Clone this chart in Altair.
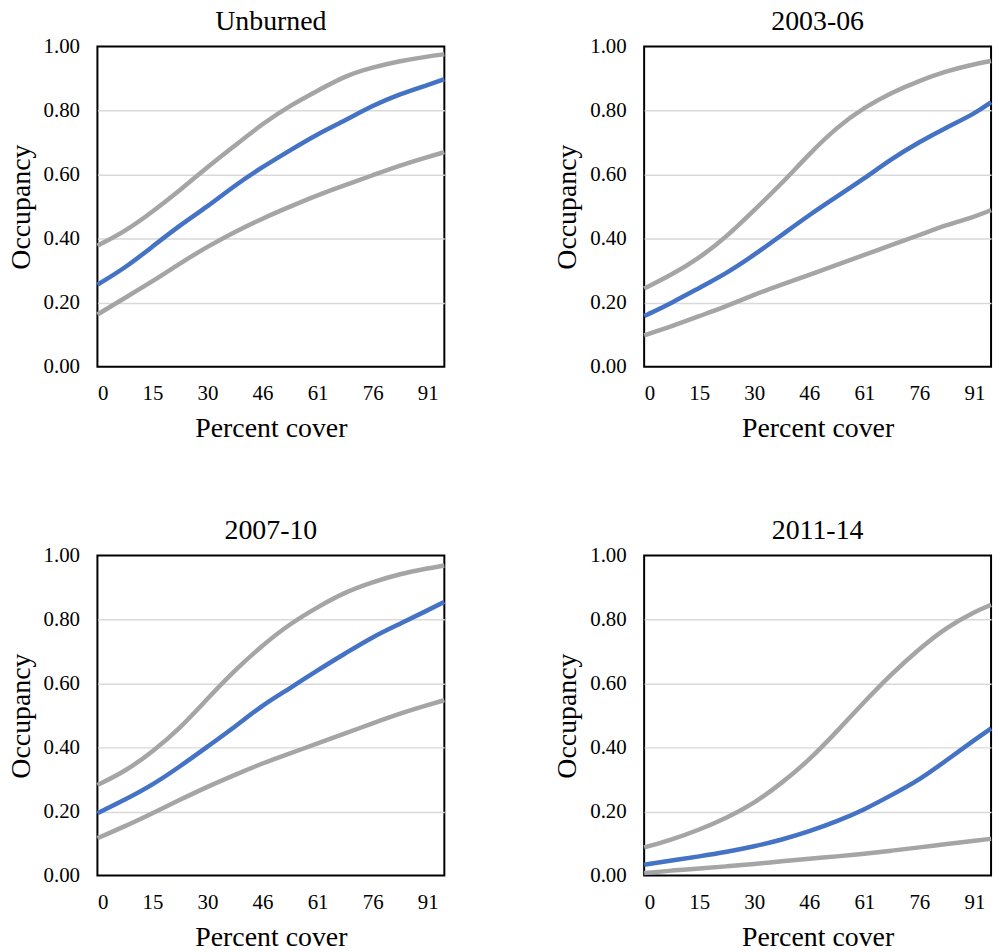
import altair as alt
import pandas as pd

# Percent-cover grid shared by every panel (category steps of ~1.52)
cover = [0, 7.6, 15.2, 22.8, 30.4, 38.0, 45.6, 53.2, 60.8, 68.4, 76.0, 83.6, 91.2, 95.8]

# Occupancy estimates with lower / upper confidence bounds
unburned_est = [0.256, 0.308, 0.375, 0.442, 0.500, 0.567, 0.624, 0.676, 0.727, 0.769, 0.816, 0.852, 0.880, 0.898]
unburned_up = [0.378, 0.422, 0.484, 0.551, 0.624, 0.691, 0.759, 0.816, 0.862, 0.909, 0.935, 0.955, 0.969, 0.976]
unburned_lo = [0.163, 0.215, 0.266, 0.323, 0.375, 0.422, 0.463, 0.500, 0.536, 0.567, 0.598, 0.629, 0.655, 0.670]

p0306_est = [0.158, 0.199, 0.246, 0.292, 0.349, 0.411, 0.474, 0.531, 0.588, 0.650, 0.702, 0.748, 0.790, 0.826]
p0306_up = [0.244, 0.287, 0.339, 0.406, 0.489, 0.572, 0.665, 0.748, 0.810, 0.857, 0.893, 0.924, 0.945, 0.955]
p0306_lo = [0.098, 0.126, 0.158, 0.189, 0.225, 0.256, 0.287, 0.318, 0.349, 0.381, 0.411, 0.443, 0.468, 0.489]

p0710_est = [0.195, 0.237, 0.283, 0.341, 0.403, 0.465, 0.533, 0.585, 0.642, 0.694, 0.746, 0.787, 0.829, 0.855]
p0710_up = [0.283, 0.325, 0.387, 0.460, 0.553, 0.642, 0.720, 0.787, 0.839, 0.886, 0.917, 0.943, 0.960, 0.969]
p0710_lo = [0.117, 0.154, 0.195, 0.237, 0.278, 0.315, 0.351, 0.382, 0.413, 0.444, 0.476, 0.507, 0.533, 0.548]

p1114_est = [0.034, 0.047, 0.060, 0.074, 0.091, 0.112, 0.138, 0.169, 0.206, 0.252, 0.299, 0.361, 0.424, 0.460]
p1114_up = [0.088, 0.112, 0.143, 0.180, 0.226, 0.289, 0.361, 0.450, 0.543, 0.631, 0.709, 0.777, 0.824, 0.846]
p1114_lo = [0.008, 0.016, 0.022, 0.029, 0.036, 0.045, 0.053, 0.060, 0.068, 0.078, 0.088, 0.099, 0.109, 0.115]

periods = ["Unburned", "2003-06", "2007-10", "2011-14"]
series_sets = {
    "Unburned": (unburned_lo, unburned_est, unburned_up),
    "2003-06": (p0306_lo, p0306_est, p0306_up),
    "2007-10": (p0710_lo, p0710_est, p0710_up),
    "2011-14": (p1114_lo, p1114_est, p1114_up),
}

x_ticks = [0, 15.2, 30.4, 45.6, 60.8, 76.0, 91.2]
y_ticks = [0, 0.2, 0.4, 0.6, 0.8, 1.0]

rows = []
for period in periods:
    for name, vals in zip(["lower", "estimate", "upper"], series_sets[period]):
        for c, v in zip(cover, vals):
            rows.append({"period": period, "series": name, "cover": c, "occupancy": v})
df = pd.DataFrame(rows)

FONT = "Liberation Serif"
BLUE = "#4472C4"
GRAY = "#A5A5A5"


def panel(period):
    return (
        alt.Chart(df)
        .transform_filter(alt.datum.period == period)
        .mark_line(strokeWidth=4.5, interpolate="basis")
        .encode(
            x=alt.X(
                "cover:Q",
                scale=alt.Scale(domain=[0, 95.8], nice=False, zero=False),
                axis=alt.Axis(
                    values=x_ticks,
                    labelExpr="format(round(datum.value), 'd')",
                    title="Percent cover",
                    grid=False,
                    ticks=False,
                    domain=False,
                    labelPadding=16,
                    titlePadding=11,
                ),
            ),
            y=alt.Y(
                "occupancy:Q",
                scale=alt.Scale(domain=[0, 1], nice=False),
                axis=alt.Axis(
                    values=y_ticks,
                    format=".2f",
                    title="Occupancy",
                    grid=True,
                    gridOpacity={
                        "condition": {"test": "datum.value == 0 || datum.value == 1", "value": 0},
                        "value": 1,
                    },
                    ticks=False,
                    domain=False,
                    labelPadding=18,
                    titlePadding=8,
                ),
            ),
            color=alt.Color(
                "series:N",
                scale=alt.Scale(domain=["lower", "estimate", "upper"], range=[GRAY, BLUE, GRAY]),
                legend=None,
            ),
            detail="series:N",
        )
        .properties(
            width=349,
            height=322,
            title=alt.TitleParams(
                period, font=FONT, fontSize=28, fontWeight="normal", color="#000000", offset=0
            ),
        )
    )


top = alt.hconcat(panel("Unburned"), panel("2003-06"), spacing=99)
bottom = alt.hconcat(panel("2007-10"), panel("2011-14"), spacing=99)

chart = (
    alt.vconcat(top, bottom, spacing=73)
    .properties(padding={"left": 6, "top": 4, "right": 0, "bottom": 0}, background="white")
    .configure_view(stroke="#000000", strokeWidth=2)
    .configure_axis(
        labelFont=FONT,
        labelFontSize=21,
        labelColor="#000000",
        titleFont=FONT,
        titleFontSize=28,
        titleFontWeight="normal",
        titleColor="#000000",
        gridColor="#D9D9D9",
        gridWidth=1.5,
    )
)

chart.save("out.html", embed_options={"renderer": "svg", "actions": False})
